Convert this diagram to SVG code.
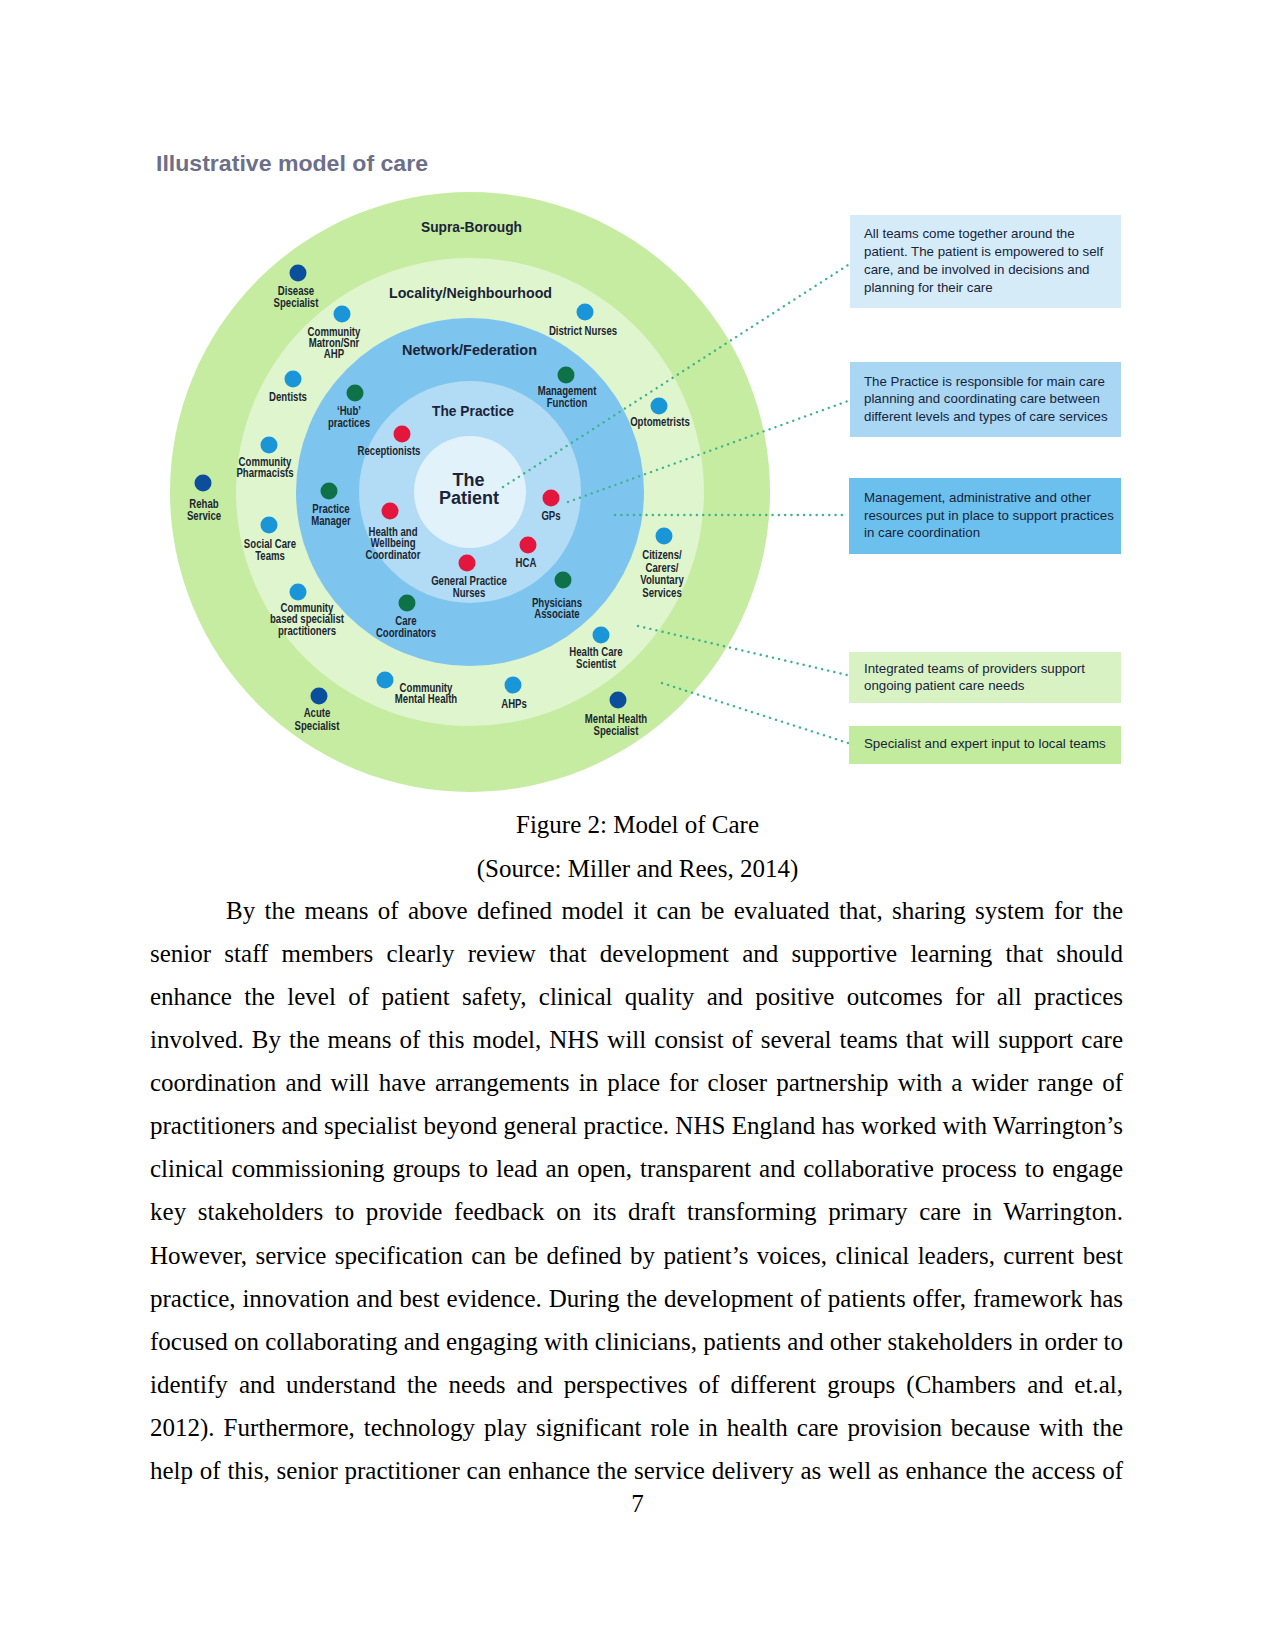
<svg xmlns="http://www.w3.org/2000/svg" width="1275" height="1650" viewBox="0 0 1275 1650">
<style>
.title{font-family:'Liberation Sans',Arial,sans-serif;font-weight:bold;font-size:22px;fill:#6c6f89}
.ring{font-family:'Liberation Sans',Arial,sans-serif;font-weight:bold;font-size:15px;fill:#1b2438;text-anchor:middle}
.pat{font-family:'Liberation Sans',Arial,sans-serif;font-weight:bold;font-size:18px;fill:#1b2438;text-anchor:middle}
.lbl{font-family:'Liberation Sans',Arial,sans-serif;font-weight:bold;font-size:12px;fill:#1c2630;text-anchor:middle}
.box{font-family:'Liberation Sans',Arial,sans-serif;font-size:13.3px;fill:#17243a}
.body{font-family:'Liberation Serif','Times New Roman',serif;font-size:25px;fill:#000}
.lb{fill:#1a96d8}.db{fill:#0b4f9c}.gr{fill:#0e7148}.rd{fill:#e3173e}
.con{fill:none;stroke:#3cb48c;stroke-width:2.4;stroke-linecap:round;stroke-dasharray:0.1 6.2}
</style>

<text class="title" x="156" y="171" textLength="272" lengthAdjust="spacingAndGlyphs">Illustrative model of care</text>

<g id="rings">
<circle cx="470" cy="492" r="300" fill="#c6eca1"/>
<circle cx="470" cy="492" r="234" fill="#dff5cd"/>
<circle cx="470" cy="492" r="174" fill="#7dc5ee"/>
<circle cx="470" cy="492" r="111" fill="#b2dbf5"/>
<circle cx="470" cy="492" r="56" fill="#e2f2fb"/>
</g>

<g id="ring-labels">
<text class="ring" x="471.5" y="232" textLength="101" lengthAdjust="spacingAndGlyphs">Supra-Borough</text>
<text class="ring" x="470.5" y="298" textLength="163" lengthAdjust="spacingAndGlyphs">Locality/Neighbourhood</text>
<text class="ring" x="469.5" y="355" textLength="135" lengthAdjust="spacingAndGlyphs">Network/Federation</text>
<text class="ring" x="473" y="416" textLength="82" lengthAdjust="spacingAndGlyphs">The Practice</text>
<text class="pat" x="468.5" y="486">The</text>
<text class="pat" x="469" y="504">Patient</text>
</g>

<g id="connectors">
<line class="con" x1="503" y1="487" x2="848" y2="265"/>
<line class="con" x1="568" y1="502" x2="848" y2="401"/>
<line class="con" x1="615" y1="515" x2="846" y2="515"/>
<line class="con" x1="638" y1="626" x2="847" y2="675"/>
<line class="con" x1="662" y1="683" x2="848" y2="743"/>
</g>

<g id="disease-specialist"><circle class="db" cx="298" cy="273" r="8.5"/><text class="lbl" transform="translate(296 295) scale(.8 1)">Disease</text><text class="lbl" transform="translate(296 307) scale(.8 1)">Specialist</text></g>
<g id="community-matron"><circle class="lb" cx="342" cy="314" r="8.5"/><text class="lbl" transform="translate(334 336) scale(.8 1)">Community</text><text class="lbl" transform="translate(334 347) scale(.8 1)">Matron/Snr</text><text class="lbl" transform="translate(334 358) scale(.8 1)">AHP</text></g>
<g id="dentists"><circle class="lb" cx="293" cy="379" r="8.5"/><text class="lbl" transform="translate(288 401) scale(.8 1)">Dentists</text></g>
<g id="hub-practices"><circle class="gr" cx="355" cy="393" r="8.5"/><text class="lbl" transform="translate(349 415) scale(.8 1)">‘Hub’</text><text class="lbl" transform="translate(349 427) scale(.8 1)">practices</text></g>
<g id="receptionists"><circle class="rd" cx="402" cy="434" r="8.5"/><text class="lbl" transform="translate(389 455) scale(.8 1)">Receptionists</text></g>
<g id="community-pharmacists"><circle class="lb" cx="269" cy="445" r="8.5"/><text class="lbl" transform="translate(265 466) scale(.8 1)">Community</text><text class="lbl" transform="translate(265 477) scale(.8 1)">Pharmacists</text></g>
<g id="rehab-service"><circle class="db" cx="203" cy="483" r="8.5"/><text class="lbl" transform="translate(204 508) scale(.8 1)">Rehab</text><text class="lbl" transform="translate(204 520) scale(.8 1)">Service</text></g>
<g id="practice-manager"><circle class="gr" cx="329" cy="491" r="8.5"/><text class="lbl" transform="translate(331 513) scale(.8 1)">Practice</text><text class="lbl" transform="translate(331 525) scale(.8 1)">Manager</text></g>
<g id="health-wellbeing"><circle class="rd" cx="390" cy="511" r="8.5"/><text class="lbl" transform="translate(393 536) scale(.8 1)">Health and</text><text class="lbl" transform="translate(393 547) scale(.8 1)">Wellbeing</text><text class="lbl" transform="translate(393 559) scale(.8 1)">Coordinator</text></g>
<g id="social-care"><circle class="lb" cx="269" cy="525" r="8.5"/><text class="lbl" transform="translate(270 548) scale(.8 1)">Social Care</text><text class="lbl" transform="translate(270 560) scale(.8 1)">Teams</text></g>
<g id="gp-nurses"><circle class="rd" cx="467" cy="563" r="8.5"/><text class="lbl" transform="translate(469 585) scale(.8 1)">General Practice</text><text class="lbl" transform="translate(469 597) scale(.8 1)">Nurses</text></g>
<g id="community-specialist"><circle class="lb" cx="298" cy="592" r="8.5"/><text class="lbl" transform="translate(307 612) scale(.8 1)">Community</text><text class="lbl" transform="translate(307 623) scale(.8 1)">based specialist</text><text class="lbl" transform="translate(307 635) scale(.8 1)">practitioners</text></g>
<g id="care-coordinators"><circle class="gr" cx="407" cy="603" r="8.5"/><text class="lbl" transform="translate(406 625) scale(.8 1)">Care</text><text class="lbl" transform="translate(406 637) scale(.8 1)">Coordinators</text></g>
<g id="community-mental-health"><circle class="lb" cx="385" cy="680" r="8.5"/><text class="lbl" transform="translate(426 692) scale(.8 1)">Community</text><text class="lbl" transform="translate(426 703) scale(.8 1)">Mental Health</text></g>
<g id="acute-specialist"><circle class="db" cx="319" cy="696" r="8.5"/><text class="lbl" transform="translate(317 717) scale(.8 1)">Acute</text><text class="lbl" transform="translate(317 730) scale(.8 1)">Specialist</text></g>
<g id="ahps"><circle class="lb" cx="513" cy="685" r="8.5"/><text class="lbl" transform="translate(514 708) scale(.8 1)">AHPs</text></g>
<g id="mental-health-specialist"><circle class="db" cx="618" cy="700" r="8.5"/><text class="lbl" transform="translate(616 723) scale(.8 1)">Mental Health</text><text class="lbl" transform="translate(616 735) scale(.8 1)">Specialist</text></g>
<g id="health-care-scientist"><circle class="lb" cx="601" cy="635" r="8.5"/><text class="lbl" transform="translate(596 656) scale(.8 1)">Health Care</text><text class="lbl" transform="translate(596 668) scale(.8 1)">Scientist</text></g>
<g id="gps"><circle class="rd" cx="551" cy="498" r="8.5"/><text class="lbl" transform="translate(551 520) scale(.8 1)">GPs</text></g>
<g id="hca"><circle class="rd" cx="528" cy="545" r="8.5"/><text class="lbl" transform="translate(526 567) scale(.8 1)">HCA</text></g>
<g id="physicians-associate"><circle class="gr" cx="563" cy="580" r="8.5"/><text class="lbl" transform="translate(557 607) scale(.8 1)">Physicians</text><text class="lbl" transform="translate(557 618) scale(.8 1)">Associate</text></g>
<g id="citizens"><circle class="lb" cx="664" cy="536" r="8.5"/><text class="lbl" transform="translate(662 559) scale(.8 1)">Citizens/</text><text class="lbl" transform="translate(662 572) scale(.8 1)">Carers/</text><text class="lbl" transform="translate(662 584) scale(.8 1)">Voluntary</text><text class="lbl" transform="translate(662 597) scale(.8 1)">Services</text></g>
<g id="optometrists"><circle class="lb" cx="659" cy="406" r="8.5"/><text class="lbl" transform="translate(660 426) scale(.8 1)">Optometrists</text></g>
<g id="district-nurses"><circle class="lb" cx="585" cy="312" r="8.5"/><text class="lbl" transform="translate(583 335) scale(.8 1)">District Nurses</text></g>
<g id="management-function"><circle class="gr" cx="566" cy="375" r="8.5"/><text class="lbl" transform="translate(567 395) scale(.8 1)">Management</text><text class="lbl" transform="translate(567 407) scale(.8 1)">Function</text></g>

<g id="box1"><rect x="850" y="215" width="271" height="93" fill="#d5ebf8"/>
<text class="box" x="864" y="238">All teams come together around the</text>
<text class="box" x="864" y="256">patient. The patient is empowered to self</text>
<text class="box" x="864" y="274">care, and be involved in decisions and</text>
<text class="box" x="864" y="292">planning for their care</text></g>
<g id="box2"><rect x="850" y="362" width="271" height="75" fill="#a8d6f3"/>
<text class="box" x="864" y="386">The Practice is responsible for main care</text>
<text class="box" x="864" y="403">planning and coordinating care between</text>
<text class="box" x="864" y="421">different levels and types of care services</text></g>
<g id="box3"><rect x="849" y="478" width="272" height="76" fill="#6cc0ee"/>
<text class="box" x="864" y="502">Management, administrative and other</text>
<text class="box" x="864" y="520">resources put in place to support practices</text>
<text class="box" x="864" y="537">in care coordination</text></g>
<g id="box4"><rect x="849" y="652" width="272" height="51" fill="#d9f2c4"/>
<text class="box" x="864" y="673">Integrated teams of providers support</text>
<text class="box" x="864" y="690">ongoing patient care needs</text></g>
<g id="box5"><rect x="849" y="726" width="272" height="38" fill="#c3eb9e"/>
<text class="box" x="864" y="748">Specialist and expert input to local teams</text></g>

<g id="caption">
<text class="body" x="637.5" y="833" text-anchor="middle">Figure 2: Model of Care</text>
<text class="body" x="637.5" y="877" text-anchor="middle">(Source: Miller and Rees, 2014)</text>
</g>

<g id="body-text">
<text class="body" x="226" y="919" word-spacing="3.1" textLength="897" lengthAdjust="spacing">By the means of above defined model it can be evaluated that, sharing system for the</text>
<text class="body" x="150" y="962" word-spacing="7" textLength="973" lengthAdjust="spacing">senior staff members clearly review that development and supportive learning that should</text>
<text class="body" x="150" y="1005" word-spacing="6.1" textLength="973" lengthAdjust="spacing">enhance the level of patient safety, clinical quality and positive outcomes for all practices</text>
<text class="body" x="150" y="1048" word-spacing="1.8" textLength="973" lengthAdjust="spacing">involved. By the means of this model, NHS will consist of several teams that will support care</text>
<text class="body" x="150" y="1091" word-spacing="2.9" textLength="973" lengthAdjust="spacing">coordination and will have arrangements in place for closer partnership with a wider range of</text>
<text class="body" x="150" y="1134" textLength="973" lengthAdjust="spacing">practitioners and specialist beyond general practice. NHS England has worked with Warrington’s</text>
<text class="body" x="150" y="1177" word-spacing="1.7" textLength="973" lengthAdjust="spacing">clinical commissioning groups to lead an open, transparent and collaborative process to engage</text>
<text class="body" x="150" y="1220" word-spacing="5.3" textLength="973" lengthAdjust="spacing">key stakeholders to provide feedback on its draft transforming primary care in Warrington.</text>
<text class="body" x="150" y="1264" word-spacing="2.1" textLength="973" lengthAdjust="spacing">However, service specification can be defined by patient’s voices, clinical leaders, current best</text>
<text class="body" x="150" y="1307" word-spacing="0.6" textLength="973" lengthAdjust="spacing">practice, innovation and best evidence. During the development of patients offer, framework has</text>
<text class="body" x="150" y="1350" textLength="973" lengthAdjust="spacing">focused on collaborating and engaging with clinicians, patients and other stakeholders in order to</text>
<text class="body" x="150" y="1393" word-spacing="4.8" textLength="973" lengthAdjust="spacing">identify and understand the needs and perspectives of different groups (Chambers and et.al,</text>
<text class="body" x="150" y="1436" word-spacing="2.7" textLength="973" lengthAdjust="spacing">2012). Furthermore, technology play significant role in health care provision because with the</text>
<text class="body" x="150" y="1479" word-spacing="0.5" textLength="973" lengthAdjust="spacing">help of this, senior practitioner can enhance the service delivery as well as enhance the access of</text>
</g>
<text id="page-number" class="body" x="637.5" y="1512" text-anchor="middle">7</text>
</svg>
